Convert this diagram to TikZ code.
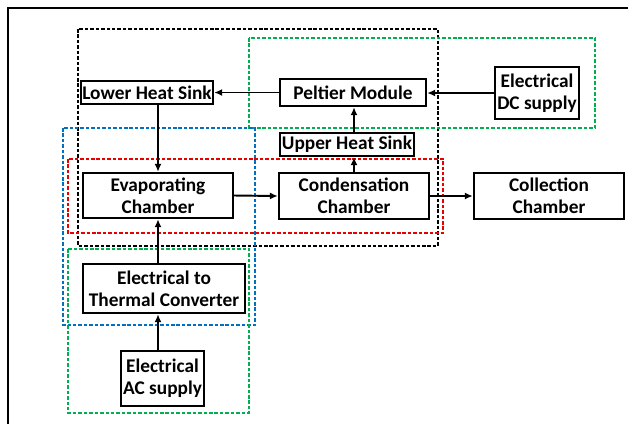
\documentclass[tikz,border=0pt]{standalone}
\usepackage{fontspec}
\setmainfont{Carlito}
\usetikzlibrary{arrows.meta}
\definecolor{grpred}{RGB}{230,0,0}
\definecolor{grpblue}{RGB}{0,112,192}
\definecolor{grpgreen}{RGB}{0,176,80}
\begin{document}
\begin{tikzpicture}[x=0.02cm,y=-0.02cm,
	blk/.style={draw,line width=1.4pt,fill=white,inner sep=0pt,align=center,
		font=\fontsize{11}{12.5}\selectfont\bfseries},
	grp/.style={line width=1.1pt,dash pattern=on 2pt off 1.1pt},
	arr/.style={line width=1.1pt,-{Latex[length=4.5pt,width=4pt]}}]
	\useasboundingbox (0,0) rectangle (628,424);
	\draw[line width=1.4pt] (8,424) -- (8,8) -- (628,8);
	% groups
	\draw[grp,black] (78,29) rectangle (438,246);
	\draw[grp,grpgreen] (249,38) rectangle (595,128);
	\draw[grp,grpblue] (63,128) rectangle (255,325);
	\draw[grp,grpred] (68,159) rectangle (443,233);
	\draw[grp,grpgreen] (68,249) rectangle (249,413);
	% blocks
	\node[blk,minimum width=2.64cm,minimum height=0.46cm] (lhs) at (147,92.5) {Lower Heat Sink};
	\node[blk,minimum width=2.92cm,minimum height=0.54cm] (pelt) at (353,92.5) {Peltier Module};
	\node[blk,minimum width=1.68cm,minimum height=1.04cm] (dc) at (537,93) {Electrical\\DC supply};
	\node[blk,minimum width=2.68cm,minimum height=0.46cm] (uhs) at (347,144.5) {Upper Heat Sink};
	\node[blk,minimum width=3cm,minimum height=0.9cm] (evap) at (158,195.5) {Evaporating\\Chamber};
	\node[blk,minimum width=3cm,minimum height=0.92cm] (cond) at (354,196) {Condensation\\Chamber};
	\node[blk,minimum width=3cm,minimum height=0.92cm] (coll) at (549,196) {Collection\\Chamber};
	\node[blk,minimum width=3.24cm,minimum height=0.98cm] (etc) at (164,288.5) {Electrical to\\Thermal Converter};
	\node[blk,minimum width=1.66cm,minimum height=1.1cm] (ac) at (162.5,378.5) {Electrical\\AC supply};
	% connectors
	\draw[arr] (pelt.west) -- (lhs.east);
	\draw[arr] (dc.west) -- (dc.west -| pelt.east);
	\draw[arr] (lhs.south -| evap.north) -- (evap.north);
	\draw[arr] (evap.east) -- (cond.west);
	\draw[arr] (cond.east) -- (coll.west);
	\draw[arr] (cond.north) -- (uhs.south -| cond.north);
	\draw[arr] (uhs.north -| cond.north) -- (pelt.south -| cond.north);
	\draw[arr] (etc.north -| evap.south) -- (evap.south);
	\draw[arr] (ac.north -| evap.south) -- (etc.south -| evap.south);
\end{tikzpicture}
\end{document}
